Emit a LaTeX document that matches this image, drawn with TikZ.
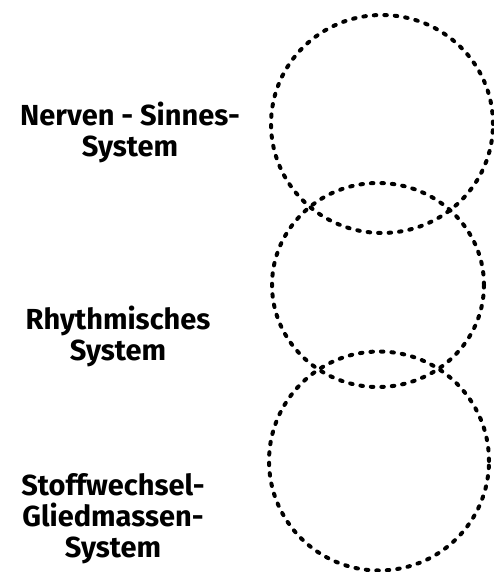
\documentclass[tikz,border=0pt]{standalone}
\usepackage{fontspec}
\setmainfont{Fira Sans}
\usetikzlibrary{shapes.geometric}

\begin{document}
\begin{tikzpicture}[x=1pt, y=-1pt,
  ring/.style={ellipse, draw, line width=4pt, line cap=round, dash pattern=on 2.5pt off 8pt, inner sep=0pt, outer sep=0pt},
  lbl/.style={align=center, font=\fontsize{29}{31}\selectfont\bfseries, inner sep=0pt}]
\useasboundingbox (0,0) rectangle (494,572);
\node[ring, minimum width=222pt, minimum height=218pt] (nerv) at (382,124) {};
\node[ring, minimum width=212pt, minimum height=204pt] (rhyth) at (378,285) {};
\node[ring, minimum width=220pt, minimum height=219pt] (stoff) at (379,461) {};
\node[lbl] (nervlbl) at (130,132) {Nerven - Sinnes-\\System};
\node[lbl] (rhythlbl) at (118,336) {Rhythmisches\\System};
\node[lbl] (stofflbl) at (113,519) {Stoffwechsel-\\Gliedmassen-\\System};
\end{tikzpicture}
\end{document}
